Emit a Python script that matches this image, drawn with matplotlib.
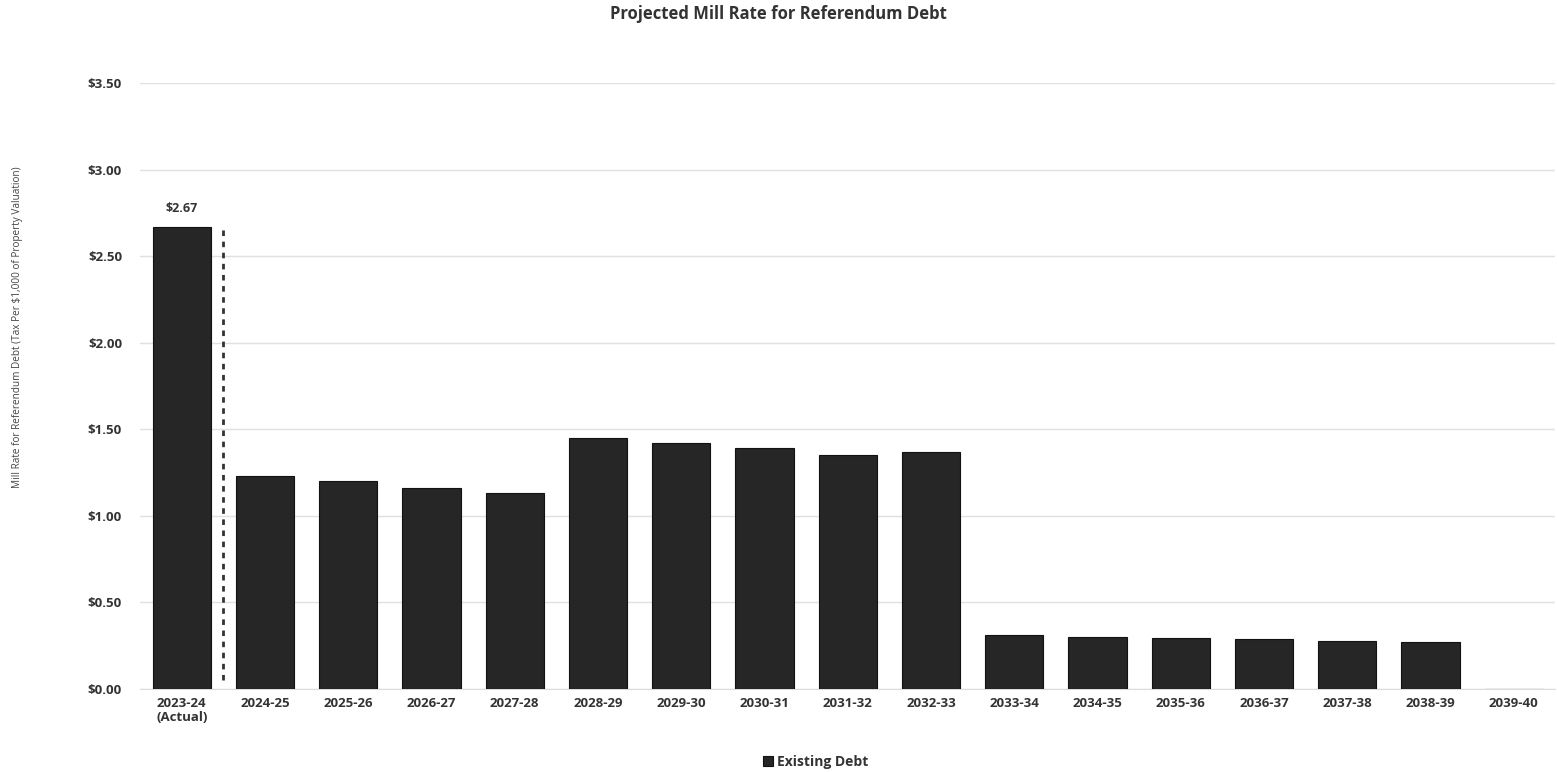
import numpy as np
import matplotlib.pyplot as plt
from matplotlib.ticker import FuncFormatter

# Fiscal years and projected mill rate (tax per $1,000 of valuation)
years = ['2023-24\n(Actual)', '2024-25', '2025-26', '2026-27', '2027-28',
         '2028-29', '2029-30', '2030-31', '2031-32', '2032-33', '2033-34',
         '2034-35', '2035-36', '2036-37', '2037-38', '2038-39', '2039-40']
existing_debt = [2.67, 1.23, 1.20, 1.16, 1.13, 1.45, 1.42, 1.39, 1.35, 1.37,
                 0.31, 0.30, 0.295, 0.29, 0.28, 0.27, 0.0]
labelled = {0: '$2.67'}

plt.rcParams['font.family'] = ['Open Sans', 'DejaVu Sans']

fig = plt.figure(figsize=(15.57, 7.72), dpi=100)
ax = fig.add_axes([0.09, 0.1075, 0.909, 0.785])

x = np.arange(len(years))
ax.bar(x, existing_debt, width=0.7, color='#262626', edgecolor='#111111',
       linewidth=0.8, label='Existing Debt', zorder=3)

for i, txt in labelled.items():
    ax.text(x[i], existing_debt[i] + 0.07, txt, ha='center', va='bottom',
            fontsize=9, fontweight='bold', color='#333333')

# separator between actual and projected years
ax.plot([0.5, 0.5], [0.05, 2.65], color='#333333', linewidth=2,
        linestyle=(0, (2, 2)), zorder=4)

ax.set_xlim(-0.5, len(years) - 0.5)
ax.set_ylim(0, 3.5)
ax.set_yticks(np.arange(0, 3.51, 0.5))
ax.yaxis.set_major_formatter(FuncFormatter(lambda v, p: f'${v:.2f}'))
ax.set_xticks(x)
ax.set_xticklabels(years, fontsize=9.5, fontweight='bold', color='#333333',
                   va='top', linespacing=1.1)
for lbl in ax.get_yticklabels():
    lbl.set_fontsize(9.5)
    lbl.set_fontweight('bold')
    lbl.set_color('#333333')
ax.tick_params(axis='both', length=0)
ax.tick_params(axis='y', pad=13)
ax.tick_params(axis='x', pad=6)

ax.grid(axis='y', color='#e0e0e0', linewidth=1, zorder=0)
for side in ['top', 'right', 'left']:
    ax.spines[side].set_visible(False)
ax.spines['bottom'].set_color('#dcdcdc')

fig.text(18 / 1557, 1 - 327 / 772,
         'Mill Rate for Referendum Debt (Tax Per $1,000 of Property Valuation)',
         rotation=90, ha='center', va='center', fontsize=7.2, color='#444444',
         family=['Liberation Sans Narrow', 'Open Sans', 'DejaVu Sans'])

fig.suptitle('Projected Mill Rate for Referendum Debt', y=0.993,
             fontsize=12, fontweight='bold', color='#333333')

leg = fig.legend(loc='lower center', bbox_to_anchor=(0.524, -0.012), frameon=False,
                 fontsize=10, handlelength=0.7, handleheight=0.7,
                 handletextpad=0.3)
for t in leg.get_texts():
    t.set_fontweight('bold')
    t.set_color('#333333')

fig.savefig('out.png', dpi=100, facecolor='white')
